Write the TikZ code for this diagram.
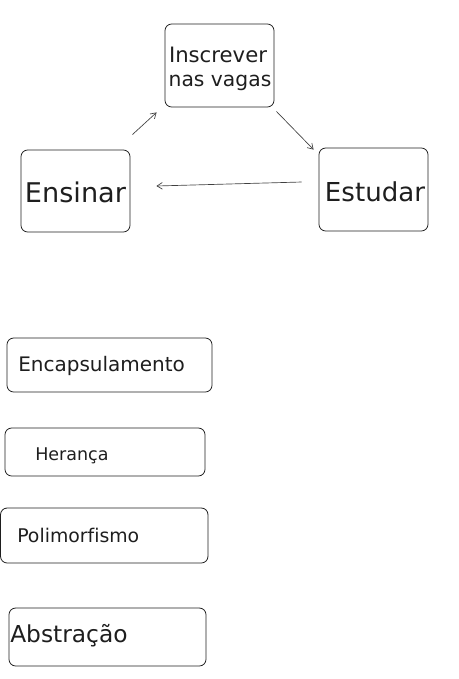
\documentclass[tikz,border=0pt]{standalone}
\usepackage{fontspec}
\setmainfont{DejaVu Sans}[Ligatures=CommonOff]
\usetikzlibrary{arrows.meta}
\definecolor{ink}{HTML}{1E1E1E}
\newcommand{\fitw}[2]{\resizebox{#1}{!}{#2}}
\begin{document}
\begin{tikzpicture}[x=0.75pt,y=-0.75pt,
  box/.style={draw=ink, line width=0.6pt, rounded corners=5pt, inner sep=0pt},
  lbl/.style={inner sep=0pt, text=ink},
  conn/.style={draw=ink!85, line width=0.5pt, -{Straight Barb[length=4pt,width=5pt]}}]
\useasboundingbox (0,0) rectangle (458,679);
% cycle boxes
\node[box, minimum width=81.75pt, minimum height=62.25pt] (insc) at (219.5,65.5) {};
\node[box, minimum width=81.75pt, minimum height=61.5pt] (ens) at (75.5,191) {};
\node[box, minimum width=81.75pt, minimum height=62.25pt] (est) at (373.5,189.5) {};
\node[lbl] (inscA) at (218,55) {\fitw{73.5pt}{Inscrever}};
\node[lbl] (inscB) at (220,83) {\fitw{77pt}{nas vagas}};
\node[lbl] (ensT) at (75.5,192) {\fitw{75.75pt}{Ensinar}};
\node[lbl] (estT) at (375,192) {\fitw{75pt}{Estudar}};
% connectors
\draw[conn] ([shift={(2,-15)}]ens.north east) -- ([shift={(-8,5)}]insc.south west);
\draw[conn] ([shift={(2,4)}]insc.south east) -- ([shift={(-5,2)}]est.north west);
\draw[conn] ([shift={(-17,-7.5)}]est.west) -- ([shift={(26,-5)}]ens.east);
% concept boxes
\node[box, minimum width=153.75pt, minimum height=40.5pt] (encap) at (109.5,365) {};
\node[box, minimum width=150pt, minimum height=36pt] (her) at (105,452) {};
\node[box, minimum width=155.6pt, minimum height=41.25pt] (poli) at (104.25,535.5) {};
\node[box, minimum width=147.75pt, minimum height=43.5pt] (abst) at (107.5,637) {};
\node[lbl, anchor=west] (encapT) at (18,366) {\fitw{125pt}{Encapsulamento}};
\node[lbl, anchor=west] (herT) at (35,456) {\fitw{55pt}{Herança}};
\node[lbl, anchor=west] (poliT) at (17,535) {\fitw{91.5pt}{Polimorfismo}};
\node[lbl, anchor=west] (abstT) at (10,636) {\fitw{88pt}{Abstração}};
\end{tikzpicture}
\end{document}
